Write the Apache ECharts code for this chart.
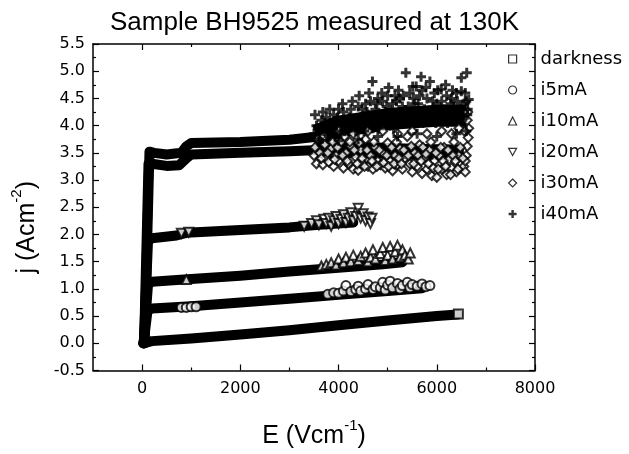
<!DOCTYPE html>
<html><head><meta charset="utf-8">
<script src="https://cdn.jsdelivr.net/npm/echarts@6/dist/echarts.min.js"></script>
<style>html,body{margin:0;padding:0;background:#fff}#c{width:629px;height:454px}</style>
</head><body><div id="c"></div>
<script>
// ---- data (E in V/cm, j in A/cm^2) ----
const titleText = 'Sample BH9525 measured at 130K';
const seriesNames = ['darkness','i5mA','i10mA','i20mA','i30mA','i40mA'];
const xTickLabels = [0,2000,4000,6000,8000];
const xMinorTicks = [1000,3000,5000,7000];

// dense (continuous) part of each curve
const darknessBand = [[20,0.0],[200,0.04],[1000,0.09],[2000,0.16],[3000,0.24],[4000,0.33],[5000,0.42],[6000,0.50],[6430,0.53]];
const i5Band = [[30,0.0],[110,0.60],[200,0.64],[1000,0.68],[2000,0.75],[3000,0.82],[4000,0.89],[5000,0.96],[5700,1.01]];
const i10Band = [[30,0.0],[120,1.08],[200,1.13],[1000,1.18],[2000,1.24],[3000,1.32],[4000,1.39],[4900,1.45],[5300,1.49]];
const i20Band = [[35,0.0],[120,1.88],[200,1.93],[700,1.98],[900,2.03],[2000,2.08],[3000,2.13],[3600,2.18],[4300,2.22]];
const i30Band = [[40,0.0],[130,3.30],[200,3.30],[500,3.26],[750,3.27],[900,3.40],[1000,3.47],[2000,3.50],[3000,3.53],[3600,3.55]];
const i40Band = [[50,0.0],[150,3.52],[250,3.50],[500,3.47],[800,3.50],[900,3.62],[1000,3.68],[2000,3.70],[3000,3.74],[3600,3.80]];
// dense core of the noisy high-field region
const i30Core = [[3550,3.55],[4500,3.55],[5500,3.52],[6550,3.50]];
const i40Core = [[3550,3.82],[4000,3.98],[5000,4.12],[6000,4.18],[6600,4.18]];

// individually visible symbols
const darknessPts = [[6440,0.54]];
const i5Pts = [[800,0.66],[900,0.66],[1000,0.67],[1100,0.67],[3780,0.90],[3900,0.93],[4000,0.92],[4100,0.96],[4150,1.06],[4250,0.95],[4350,0.99],[4400,1.05],[4450,0.96],[4550,1.00],[4600,1.08],[4700,0.99],[4750,1.04],[4850,1.02],[4900,1.12],[4950,0.98],[5000,1.07],[5050,1.14],[5100,1.02],[5200,1.10],[5250,1.00],[5300,1.06],[5400,1.12],[5450,1.02],[5500,1.08],[5600,1.05],[5700,1.09],[5780,1.04],[5860,1.06]];
const i10Pts = [[900,1.17],[3650,1.42],[3750,1.45],[3850,1.48],[3950,1.44],[4000,1.55],[4100,1.48],[4150,1.58],[4250,1.50],[4300,1.62],[4400,1.52],[4450,1.60],[4550,1.66],[4600,1.50],[4650,1.58],[4700,1.72],[4750,1.55],[4850,1.65],[4900,1.76],[4950,1.52],[5000,1.62],[5050,1.78],[5100,1.55],[5150,1.68],[5200,1.80],[5250,1.58],[5300,1.72],[5350,1.62],[5420,1.55],[5460,1.66]];
const i20Pts = [[800,2.02],[950,2.04],[3300,2.15],[3450,2.20],[3550,2.25],[3600,2.18],[3700,2.28],[3750,2.20],[3800,2.30],[3850,2.15],[3900,2.25],[3950,2.33],[4000,2.20],[4050,2.28],[4100,2.36],[4150,2.22],[4200,2.30],[4250,2.40],[4300,2.25],[4350,2.33],[4400,2.48],[4450,2.30],[4500,2.38],[4550,2.25],[4600,2.32],[4650,2.20],[4680,2.30]];
const i30Pts = [[3500,3.45],[3550,3.30],[3620,3.50],[3680,3.28],[3750,3.40],[3800,3.33],[3850,3.58],[3900,3.25],[3950,3.45],[4000,3.35],[4050,3.70],[4100,3.22],[4150,3.50],[4200,3.30],[4250,3.62],[4300,3.20],[4350,3.42],[4400,3.18],[4450,3.55],[4500,3.30],[4550,3.75],[4600,3.25],[4650,3.45],[4700,3.20],[4750,3.60],[4800,3.35],[4850,3.28],[4900,3.50],[4950,3.22],[5000,3.68],[5050,3.35],[5100,3.17],[5150,3.45],[5200,3.28],[5250,3.58],[5300,3.20],[5350,3.40],[5400,3.80],[5450,3.30],[5500,3.15],[5550,3.50],[5600,3.25],[5650,3.65],[5700,3.12],[5750,3.40],[5800,3.20],[5850,3.55],[5900,3.08],[5950,3.35],[6000,3.05],[6050,3.45],[6100,3.20],[6150,3.60],[6200,3.10],[6250,3.38],[6300,3.22],[6350,3.70],[6400,3.15],[6450,3.45],[6500,3.30],[6550,3.25],[6600,3.45],[6620,3.62],[6640,3.78],[6650,3.95],[6620,4.10],[6630,4.25],[6580,3.35],[6560,3.90],[6450,3.95],[6300,3.85],[6100,3.90],[5800,3.85],[5500,3.90],[5200,3.85],[4900,3.90],[4600,3.90],[4300,3.85],[4000,3.90],[3700,3.80],
  [3520,3.60],[3580,3.75],[3650,3.40],[3720,3.65],[3780,3.50],[3880,3.70],[3920,3.38],[3980,3.60],[4080,3.45],[4120,3.80],[4180,3.35],[4230,3.70],[4320,3.55],[4380,3.30],[4420,3.68],[4480,3.40],[4530,3.25],[4580,3.55],[4680,3.35],[4720,3.70],[4780,3.25],[4830,3.55],[4920,3.32],[4980,3.45],[5020,3.25],[5080,3.60],[5130,3.30],[5180,3.70],[5230,3.40],[5280,3.30],[5330,3.55],[5420,3.45],[5480,3.62],[5530,3.30],[5620,3.45],[5680,3.35],[5720,3.60],[5780,3.48],[5830,3.30],[5880,3.70],[5930,3.22],[5980,3.50],[6030,3.20],[6080,3.60],[6130,3.35],[6180,3.25],[6230,3.55],[6280,3.10],[6330,3.45],[6380,3.35],[6430,3.20],[6480,3.60],[6530,3.40],[6580,3.15]];
const i40Pts = [[3500,3.85],[3550,4.00],[3600,3.75],[3650,4.10],[3700,3.90],[3750,4.15],[3800,3.80],[3850,4.05],[3900,4.20],[3950,3.90],[4000,4.30],[4050,3.85],[4100,4.25],[4150,4.05],[4200,3.95],[4250,4.30],[4300,4.10],[4350,3.90],[4400,4.35],[4450,4.15],[4500,4.00],[4550,4.40],[4600,4.20],[4650,4.45],[4690,4.81],[4700,3.95],[4750,4.30],[4800,4.50],[4850,4.10],[4900,4.45],[4950,4.25],[5000,4.55],[5050,4.00],[5100,4.40],[5150,4.55],[5200,4.20],[5250,4.50],[5300,4.35],[5370,4.97],[5400,4.10],[5450,4.60],[5510,4.72],[5550,4.40],[5580,4.72],[5600,4.20],[5650,4.55],[5680,4.90],[5700,4.65],[5750,4.30],[5800,4.50],[5860,4.81],[5900,4.25],[5950,4.60],[6000,4.40],[6050,4.15],[6090,4.67],[6100,4.45],[6150,4.30],[6200,4.55],[6250,4.20],[6300,4.50],[6350,4.35],[6400,4.60],[6450,4.25],[6500,4.63],[6500,4.88],[6550,4.40],[6600,4.45],[6610,4.97],[6620,4.20],[6650,4.48],[3600,3.70],[4000,3.72],[4400,3.75],[4800,3.80],[5200,3.80],[5600,3.85],[6000,3.80],[6400,3.85],[6600,3.90],
  [3520,4.20],[3580,3.95],[3680,4.25],[3720,4.05],[3820,4.30],[3880,3.95],[3980,4.15],[4080,4.40],[4120,3.90],[4220,4.15],[4280,4.45],[4380,4.05],[4420,4.55],[4480,4.30],[4520,3.90],[4580,4.25],[4620,4.60],[4720,4.15],[4780,4.40],[4820,3.95],[4880,4.60],[4920,4.10],[4980,4.35],[5020,4.70],[5080,4.20],[5120,3.95],[5180,4.45],[5220,4.65],[5280,4.05],[5320,4.55],[5420,4.35],[5480,4.15],[5520,4.50],[5620,4.40],[5720,4.05],[5780,4.70],[5820,4.20],[5920,4.45],[5980,4.05],[6020,4.65],[6120,4.20],[6180,4.75],[6220,4.05],[6280,4.40],[6320,4.65],[6380,4.10],[6420,4.45],[6480,4.30],[6520,4.10],[6580,4.60],[6630,4.30]];

const bands = [darknessBand, i5Band, i10Band, i20Band, i30Band, i40Band];
const points = [darknessPts, i5Pts, i10Pts, i20Pts, i30Pts, i40Pts];
const cores = [[i30Core, 16], [i40Core, 22]];

// ---- styling ----
const FONT = 'Liberation Sans';
const TFONT = 'DejaVu Sans';
const PLUS = 'path://M3.5,0H6.5V3.5H10V6.5H6.5V10H3.5V6.5H0V3.5H3.5Z';
const INVTRI = 'path://M0,0L10,0L5,9Z';
const symbols = ['rect','circle','triangle',INVTRI,'diamond',PLUS];

const series = [];
bands.forEach((b, i) => {
  series.push({
    name: seriesNames[i] + ' band', type: 'line', data: b, symbol: 'none',
    lineStyle: {color: '#000', width: 10, join: 'round', cap: 'round'},
    silent: true, z: 2, animation: false
  });
});
cores.forEach((c, k) => {
  series.push({
    name: 'core ' + k, type: 'line', data: c[0], symbol: 'none',
    lineStyle: {color: '#000', width: c[1], join: 'round', cap: 'butt'},
    silent: true, z: 2, animation: false
  });
});
points.forEach((p, i) => {
  const isPlus = symbols[i] === PLUS;
  series.push({
    name: seriesNames[i], type: 'scatter', data: p, symbol: symbols[i],
    symbolSize: isPlus ? 10 : 9,
    itemStyle: isPlus ? {color: '#000', borderWidth: 0} : {color: '#fff', borderColor: '#000', borderWidth: 2},
    z: 3, animation: false
  });
});

const axisLine = {show: true, onZero: false, lineStyle: {color: '#000', width: 1.5}};
const xBase = {type: 'value', min: -1000, max: 8000, interval: 1000, splitLine: {show: false}, gridIndex: 0};
const yBase = {type: 'value', min: -0.5, max: 5.5, interval: 0.5, splitLine: {show: false}, gridIndex: 0};
const tickStyle = {color: '#000', width: 1.2};

const chart = echarts.init(document.getElementById('c'), null, {renderer: 'canvas'});
chart.setOption({
  backgroundColor: '#fff',
  animation: false,
  title: {text: titleText, left: 'center', top: 5,
    textStyle: {fontFamily: FONT, fontSize: 26, fontWeight: 'normal', color: '#000'}},
  grid: {left: 93, right: 94, top: 44, bottom: 79},
  legend: {
    orient: 'vertical', left: 503, top: 40, itemWidth: 8, itemHeight: 8, itemGap: 3,
    selectedMode: false,
    itemStyle: {borderWidth: 1.2},
    textStyle: {fontFamily: TFONT, fontSize: 18, color: '#000', lineHeight: 20, padding: [0, 0, 8, 19]},
    data: seriesNames
  },
  xAxis: [
    Object.assign({}, xBase, {
      position: 'bottom', axisLine: axisLine,
      axisTick: {show: true, inside: true, length: 6, lineStyle: tickStyle, customValues: xTickLabels},
      axisLabel: {show: true, customValues: xTickLabels, color: '#000', fontFamily: TFONT, fontSize: 16, margin: 10,
        formatter: v => String(v)},
      name: '{a|E (Vcm}{b|-1}{a|)}', nameLocation: 'middle', nameGap: 48,
      nameTextStyle: {rich: {
        a: {fontFamily: FONT, fontSize: 25, color: '#000', lineHeight: 36},
        b: {fontFamily: FONT, fontSize: 15, color: '#000', verticalAlign: 'top', lineHeight: 16}
      }}
    }),
    Object.assign({}, xBase, {
      position: 'bottom', axisLine: {show: false, onZero: false},
      axisTick: {show: true, inside: true, length: 3, lineStyle: tickStyle, customValues: xMinorTicks},
      axisLabel: {show: false}
    }),
    Object.assign({}, xBase, {
      position: 'top', axisLine: axisLine,
      axisTick: {show: true, inside: true, length: 6, lineStyle: tickStyle, customValues: xTickLabels},
      axisLabel: {show: false}
    }),
    Object.assign({}, xBase, {
      position: 'top', axisLine: {show: false, onZero: false},
      axisTick: {show: true, inside: true, length: 3, lineStyle: tickStyle, customValues: xMinorTicks},
      axisLabel: {show: false}
    })
  ],
  yAxis: [
    Object.assign({}, yBase, {
      position: 'left', axisLine: axisLine,
      axisTick: {show: true, inside: true, length: 6, lineStyle: tickStyle},
      minorTick: {show: true, splitNumber: 2, length: 3, lineStyle: tickStyle},
      axisLabel: {show: true, color: '#000', fontFamily: TFONT, fontSize: 16, margin: 8,
        formatter: v => v.toFixed(1)},
      name: '{a|j (Acm}{b|-2}{a|)}', nameLocation: 'middle', nameGap: 48,
      nameTextStyle: {padding: [0, 40, 0, 0], rich: {
        a: {fontFamily: FONT, fontSize: 25, color: '#000', lineHeight: 36},
        b: {fontFamily: FONT, fontSize: 15, color: '#000', verticalAlign: 'top', lineHeight: 16}
      }}
    }),
    Object.assign({}, yBase, {
      position: 'right', axisLine: axisLine,
      axisTick: {show: true, inside: true, length: 6, lineStyle: tickStyle},
      minorTick: {show: true, splitNumber: 2, length: 3, lineStyle: tickStyle},
      axisLabel: {show: false}
    })
  ],
  series: series.map(s => Object.assign(s, {xAxisIndex: 0, yAxisIndex: 0}))
});
</script></body></html>
